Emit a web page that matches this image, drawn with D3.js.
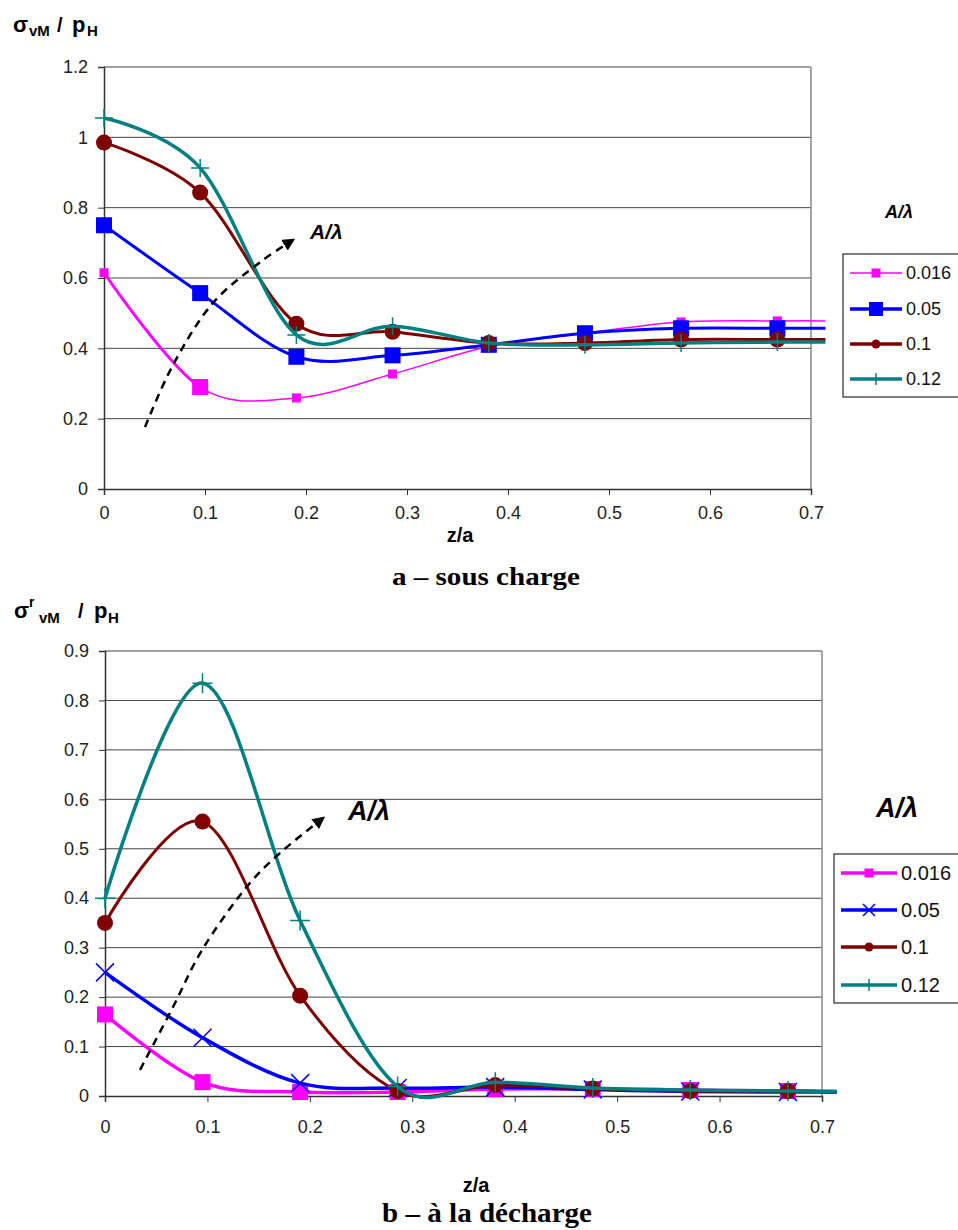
<!DOCTYPE html>
<html>
<head>
<meta charset="utf-8">
<script src="https://cdn.jsdelivr.net/npm/d3@7"></script>
<style>
  body { margin: 0; background: #fff; }
  svg { display: block; }
</style>
</head>
<body>
<svg id="chart" width="958" height="1230"></svg>
<script>
// positions along z/a (last point has no marker, line runs past the axis end)
const zPos = [0, 0.0952, 0.1905, 0.2857, 0.381, 0.4762, 0.5714, 0.6667, 0.7143];

const seriesLabels = ['0.016', '0.05', '0.1', '0.12'];
const seriesColors = ['#ff00ff', '#0000ff', '#800000', '#008080'];

// a - sous charge : sigma_vM / p_H
const topA016 = [0.615, 0.29, 0.259, 0.327, 0.405, 0.443, 0.475, 0.478, 0.478];
const topA05 = [0.75, 0.557, 0.376, 0.38, 0.41, 0.443, 0.457, 0.457, 0.457];
const topA10 = [0.985, 0.843, 0.47, 0.447, 0.415, 0.415, 0.425, 0.425, 0.425];
const topA12 = [1.055, 0.913, 0.438, 0.463, 0.415, 0.41, 0.415, 0.418, 0.418];

// b - a la decharge : sigma^r_vM / p_H
const botA016 = [0.165, 0.028, 0.008, 0.008, 0.014, 0.014, 0.012, 0.01, 0.009];
const botA05 = [0.25, 0.118, 0.026, 0.016, 0.018, 0.013, 0.009, 0.008, 0.008];
const botA10 = [0.35, 0.555, 0.203, 0.01, 0.022, 0.015, 0.01, 0.01, 0.008];
const botA12 = [0.40, 0.835, 0.355, 0.019, 0.028, 0.016, 0.012, 0.01, 0.009];

const xTicks = [0, 0.1, 0.2, 0.3, 0.4, 0.5, 0.6, 0.7];
const yTicksTop = [0, 0.2, 0.4, 0.6, 0.8, 1, 1.2];
const yTicksBot = [0, 0.1, 0.2, 0.3, 0.4, 0.5, 0.6, 0.7, 0.8, 0.9];

// dashed "A/lambda" arrows, in data units
const arrowTop = [[0.0406, 0.176], [0.0673, 0.347], [0.1079, 0.529], [0.1574, 0.651], [0.1871, 0.708]];
const arrowBot = [[0.0342, 0.053], [0.0664, 0.18], [0.0947, 0.295], [0.1416, 0.431], [0.1709, 0.4915], [0.2129, 0.562]];

const SANS = 'Liberation Sans, Arial, Helvetica, sans-serif';
const SERIF = 'Liberation Serif, Times New Roman, serif';

const svg = d3.select('#chart');
const defs = svg.append('defs');

defs.append('marker')
    .attr('id', 'arrowhead')
    .attr('viewBox', '0 0 10 10')
    .attr('refX', 8)
    .attr('refY', 5)
    .attr('markerWidth', 5)
    .attr('markerHeight', 5)
    .attr('markerUnits', 'strokeWidth')
    .attr('orient', 'auto')
    .append('path')
    .attr('d', 'M0,0 L10,5 L0,10 Z')
    .attr('fill', '#000');

function drawMarker(g, type, cx, cy, size, color) {
    const s = size / 2;
    if (type === 'square') {
        g.append('rect')
            .attr('x', cx - s).attr('y', cy - s)
            .attr('width', size).attr('height', size)
            .attr('fill', color);
    } else if (type === 'circle') {
        g.append('circle')
            .attr('cx', cx).attr('cy', cy).attr('r', s)
            .attr('fill', color);
    } else if (type === 'plus') {
        g.append('path')
            .attr('d', `M${cx - s},${cy} H${cx + s} M${cx},${cy - s} V${cy + s}`)
            .attr('stroke', color).attr('stroke-width', 1.5).attr('fill', 'none');
    } else if (type === 'x') {
        g.append('path')
            .attr('d', `M${cx - s},${cy - s} L${cx + s},${cy + s} M${cx - s},${cy + s} L${cx + s},${cy - s}`)
            .attr('stroke', color).attr('stroke-width', 1.5).attr('fill', 'none');
    }
}

function drawPanel(cfg) {
    const x = d3.scaleLinear().domain([0, 0.7]).range([cfg.left, cfg.right]);
    const y = d3.scaleLinear().domain([0, cfg.yMax]).range([cfg.bottom, cfg.top]);
    const g = svg.append('g');

    // gridlines
    g.selectAll('.grid')
        .data(cfg.yTicks.filter(d => d > 0))
        .enter()
        .append('line')
        .attr('x1', cfg.left)
        .attr('x2', cfg.right)
        .attr('y1', d => y(d))
        .attr('y2', d => y(d))
        .attr('stroke', '#444')
        .attr('stroke-width', 1);

    // right border
    g.append('line')
        .attr('x1', cfg.right).attr('x2', cfg.right)
        .attr('y1', cfg.top).attr('y2', cfg.bottom)
        .attr('stroke', '#888').attr('stroke-width', 1.5);

    const fmt = d => String(+d.toFixed(2));

    const yAxis = g.append('g')
        .attr('transform', 'translate(' + cfg.left + ',0)')
        .call(d3.axisLeft(y).tickValues(cfg.yTicks).tickSize(6).tickPadding(10).tickFormat(fmt));
    const xAxis = g.append('g')
        .attr('transform', 'translate(0,' + cfg.bottom + ')')
        .call(d3.axisBottom(x).tickValues(xTicks).tickSize(6).tickPadding(cfg.xPad).tickFormat(fmt));

    [yAxis, xAxis].forEach(a => {
        a.select('.domain').attr('stroke', '#333').attr('stroke-width', 1.5);
        a.selectAll('.tick line').attr('stroke', '#333');
        a.selectAll('.tick text')
            .attr('font-family', SANS)
            .attr('font-size', '18px')
            .attr('fill', '#222');
    });

    // series
    const line = d3.line()
        .x((d, i) => x(zPos[i]))
        .y(d => y(d))
        .curve(d3.curveCatmullRom.alpha(0));

    cfg.series.forEach((vals, k) => {
        g.append('path')
            .datum(vals)
            .attr('d', line)
            .attr('fill', 'none')
            .attr('stroke', seriesColors[k])
            .attr('stroke-width', cfg.widths[k])
            .attr('stroke-linejoin', 'round');

        // first segment drawn heavier where the original does so
        if (cfg.thickFirst && cfg.thickFirst[0] === k) {
            const clipId = 'clip-first-' + cfg.id;
            defs.append('clipPath')
                .attr('id', clipId)
                .append('rect')
                .attr('x', x(zPos[0]) - 5)
                .attr('y', cfg.top)
                .attr('width', x(zPos[1]) - x(zPos[0]) + 5)
                .attr('height', cfg.bottom - cfg.top);
            g.append('path')
                .datum(vals)
                .attr('d', line)
                .attr('fill', 'none')
                .attr('stroke', seriesColors[k])
                .attr('stroke-width', cfg.thickFirst[1])
                .attr('clip-path', 'url(#' + clipId + ')');
        }

        vals.forEach((v, i) => {
            if (zPos[i] > 0.7) return;
            let size = cfg.sizes[k];
            if (cfg.bigMarker && cfg.bigMarker[0] === k && cfg.bigMarker[1] === i) size = cfg.bigMarker[2];
            drawMarker(g, cfg.markers[k], x(zPos[i]), y(v), size, seriesColors[k]);
        });
    });

    // dashed arrow
    const arrowLine = d3.line()
        .x(d => x(d[0]))
        .y(d => y(d[1]))
        .curve(d3.curveCatmullRom.alpha(0.5));
    g.append('path')
        .datum(cfg.arrow)
        .attr('d', arrowLine)
        .attr('fill', 'none')
        .attr('stroke', '#000')
        .attr('stroke-width', 2.5)
        .attr('stroke-dasharray', '8,6')
        .attr('marker-end', 'url(#arrowhead)');

    g.append('text')
        .attr('x', cfg.arrowText[0])
        .attr('y', cfg.arrowText[1])
        .attr('font-family', SANS)
        .attr('font-weight', 'bold')
        .attr('font-style', 'italic')
        .attr('font-size', cfg.arrowText[2] + 'px')
        .text('A/λ');

    // legend
    const lg = cfg.legend;
    g.append('text')
        .attr('x', lg.titleX)
        .attr('y', lg.titleY)
        .attr('font-family', SANS)
        .attr('font-weight', 'bold')
        .attr('font-style', 'italic')
        .attr('font-size', lg.titleSize + 'px')
        .text('A/λ');

    g.append('rect')
        .attr('x', lg.x)
        .attr('y', lg.y)
        .attr('width', 200)
        .attr('height', lg.h)
        .attr('fill', '#fff')
        .attr('stroke', '#000')
        .attr('stroke-width', 1);

    seriesLabels.forEach((lab, k) => {
        const ly = lg.rows[k];
        g.append('line')
            .attr('x1', lg.x1).attr('x2', lg.x2)
            .attr('y1', ly).attr('y2', ly)
            .attr('stroke', seriesColors[k])
            .attr('stroke-width', lg.widths[k]);
        drawMarker(g, cfg.markers[k], (lg.x1 + lg.x2) / 2, ly, lg.sizes[k], seriesColors[k]);
        g.append('text')
            .attr('x', lg.x2 + 4)
            .attr('y', ly)
            .attr('dominant-baseline', 'central')
            .attr('font-family', SANS)
            .attr('font-size', lg.fontSize + 'px')
            .attr('fill', '#111')
            .text(lab);
    });

    // axis title and caption
    g.append('text')
        .attr('x', cfg.zaX)
        .attr('y', cfg.zaY)
        .attr('text-anchor', 'middle')
        .attr('font-family', SANS)
        .attr('font-weight', 'bold')
        .attr('font-size', '20px')
        .text('z/a');

    g.append('text')
        .attr('x', cfg.capX)
        .attr('y', cfg.capY)
        .attr('text-anchor', 'middle')
        .attr('font-family', SERIF)
        .attr('font-weight', 'bold')
        .attr('font-size', cfg.capSize + 'px')
        .attr('textLength', cfg.capLen)
        .attr('lengthAdjust', 'spacingAndGlyphs')
        .text(cfg.caption);

    // y title pieces
    cfg.yTitle.forEach(p => {
        g.append('text')
            .attr('x', p[1])
            .attr('y', p[2])
            .attr('font-family', SANS)
            .attr('font-weight', 'bold')
            .attr('font-size', p[3] + 'px')
            .text(p[0]);
    });
}

drawPanel({
    id: 'a',
    left: 104, right: 811, top: 67, bottom: 489, yMax: 1.2,
    yTicks: yTicksTop, xPad: 11,
    series: [topA016, topA05, topA10, topA12],
    markers: ['square', 'square', 'circle', 'plus'],
    sizes: [9, 16, 16, 18],
    widths: [1.5, 3, 3, 3.5],
    bigMarker: [0, 1, 16],
    thickFirst: [0, 3],
    arrow: arrowTop,
    arrowText: [310, 239, 21],
    legend: {
        titleX: 885, titleY: 218, titleSize: 18,
        x: 843, y: 254, h: 143,
        rows: [273, 309, 344, 379],
        x1: 850, x2: 902,
        widths: [1.5, 3.5, 3.5, 3.5],
        sizes: [9, 14, 9, 12],
        fontSize: 18
    },
    zaX: 460, zaY: 542,
    caption: 'a – sous charge', capX: 486, capY: 585, capSize: 25, capLen: 188,
    yTitle: [['σ', 13, 32, 22], ['vM', 29, 36, 15], ['/', 57, 32, 20], ['p', 72, 32, 22], ['H', 87, 36, 15]]
});

drawPanel({
    id: 'b',
    left: 105, right: 822, top: 651, bottom: 1096, yMax: 0.9,
    yTicks: yTicksBot, xPad: 18,
    series: [botA016, botA05, botA10, botA12],
    markers: ['square', 'x', 'circle', 'plus'],
    sizes: [16, 18, 16, 20],
    widths: [3.5, 3.5, 3, 3.5],
    bigMarker: null,
    thickFirst: null,
    arrow: arrowBot,
    arrowText: [348, 820, 27],
    legend: {
        titleX: 876, titleY: 817, titleSize: 27,
        x: 834, y: 854, h: 149,
        rows: [873, 910, 947, 985],
        x1: 841, x2: 897,
        widths: [3.5, 3.5, 3.5, 3.5],
        sizes: [9, 12, 9, 12],
        fontSize: 20
    },
    zaX: 476, zaY: 1192,
    caption: 'b – à la décharge', capX: 487, capY: 1222, capSize: 27, capLen: 210,
    yTitle: [['σ', 14, 618, 22], ['r', 29, 607, 14], ['vM', 39, 623, 15], ['/', 78, 618, 20], ['p', 94, 618, 22], ['H', 108, 623, 15]]
});
</script>
</body>
</html>
